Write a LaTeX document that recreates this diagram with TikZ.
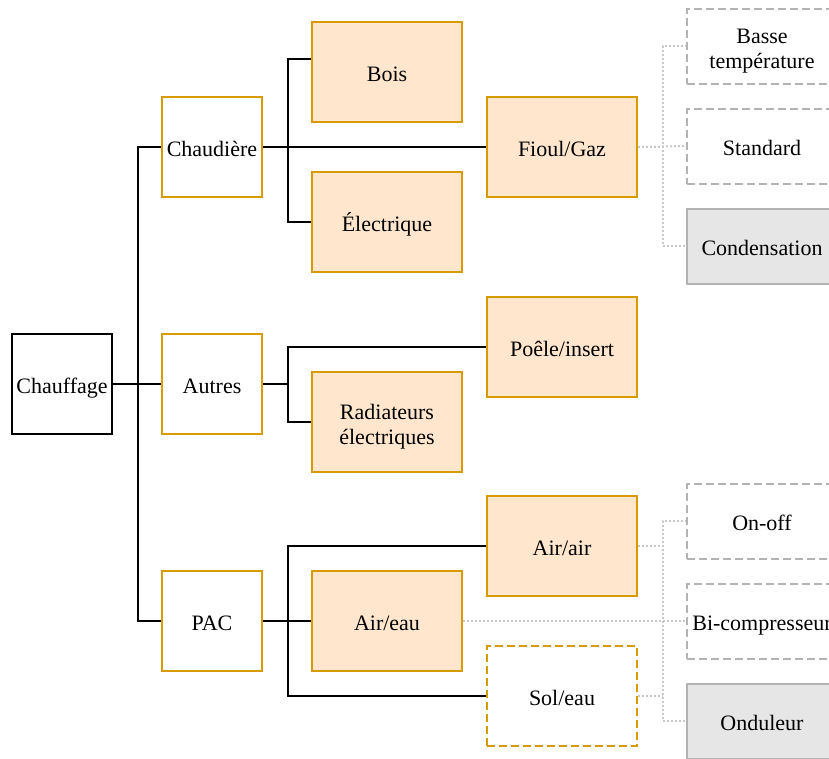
\documentclass[tikz,border=0pt]{standalone}
\usepackage{fontspec}
\setmainfont{Liberation Serif}
\usetikzlibrary{calc}
\definecolor{orD}{HTML}{D79B00}
\definecolor{orF}{HTML}{FFE6CC}
\definecolor{grD}{HTML}{B3B3B3}
\definecolor{grF}{HTML}{E6E6E6}
\definecolor{dotc}{HTML}{C8C8C8}
\begin{document}
\begin{tikzpicture}[x=0.75pt,y=-0.75pt,
 box/.style={rectangle, inner sep=0pt, align=center, font=\fontsize{16.5}{18.75}\selectfont, line width=1.5pt, text height=13.6pt, text depth=0pt},
 two/.style={text height=33pt, text depth=0pt},
 root/.style={box, draw=black, fill=white, minimum width=75pt, minimum height=75pt},
 mid/.style={box, draw=orD, fill=white, minimum width=75pt, minimum height=75pt},
 leaf/.style={box, draw=orD, fill=orF, minimum width=112.5pt, minimum height=75pt},
 leafd/.style={leaf, fill=white, dash pattern=on 6pt off 3pt},
 opt/.style={box, draw=grD, fill=white, dash pattern=on 6pt off 3pt, minimum width=112.5pt, minimum height=56.25pt},
 optf/.style={box, draw=grD, fill=grF, minimum width=112.5pt, minimum height=56.25pt},
 link/.style={line width=1.5pt, black},
 dlink/.style={line width=1.5pt, dotc, dash pattern=on 1.5pt off 1.5pt}]
\useasboundingbox (0,0) rectangle (829,758);
\clip (0,0) rectangle (829,758);
\node[root] (ch) at (62,384) {Chauffage};
\node[mid] (chd) at (212,147) {Chaudière};
\node[mid] (aut) at (212,384) {Autres};
\node[mid] (pac) at (212,621) {PAC};
\node[leaf] (bois) at (387,72) {Bois};
\node[leaf] (elec) at (387,222) {Électrique};
\node[leaf] (fioul) at (562,147) {Fioul/Gaz};
\node[leaf] (poele) at (562,347) {Poêle/insert};
\node[leaf, two] (rad) at (387,422) {Radiateurs\\électriques};
\node[leaf] (aa) at (562,546) {Air/air};
\node[leaf] (ae) at (387,621) {Air/eau};
\node[leafd] (se) at (562,696) {Sol/eau};
\node[opt, two] (basse) at (762,46) {Basse\\température};
\node[opt] (std) at (762,146) {Standard};
\node[optf] (cond) at (762,246) {Condensation};
\node[opt] (onoff) at (762,521) {On-off};
\node[opt] (bic) at (762,621) {Bi-compresseur};
\node[optf] (ond) at (762,721) {Onduleur};
% main tree
\draw[link] (ch.east) -- ++(25,0) |- (chd.west);
\draw[link] (ch.east) -- (aut.west);
\draw[link] (ch.east) -- ++(25,0) |- (pac.west);
\draw[link] (chd.east) -- ++(25,0) |- ($(bois.west)+(0,-13)$);
\draw[link] (chd.east) -- ++(25,0) |- (elec.west);
\draw[link] (chd.east) -- (fioul.west);
\draw[link] (aut.east) -- ++(25,0) |- (poele.west);
\draw[link] (aut.east) -- ++(25,0) |- (rad.west);
\draw[link] (pac.east) -- ++(25,0) |- (aa.west);
\draw[link] (pac.east) -- (ae.west);
\draw[link] (pac.east) -- ++(25,0) |- (se.west);
% dotted options
\draw[dlink] (fioul.east) -- ++(25,0) |- (basse.west);
\draw[dlink] (fioul.east) -- (std.west);
\draw[dlink] (fioul.east) -- ++(25,0) |- (cond.west);
\draw[dlink] (aa.east) -- ++(25,0) |- (onoff.west);
\draw[dlink] (aa.east) -- ++(25,0) |- (ond.west);
\draw[dlink] (se.east) -- ++(25,0);
\draw[dlink] (ae.east) -- (bic.west);
\end{tikzpicture}
\end{document}
